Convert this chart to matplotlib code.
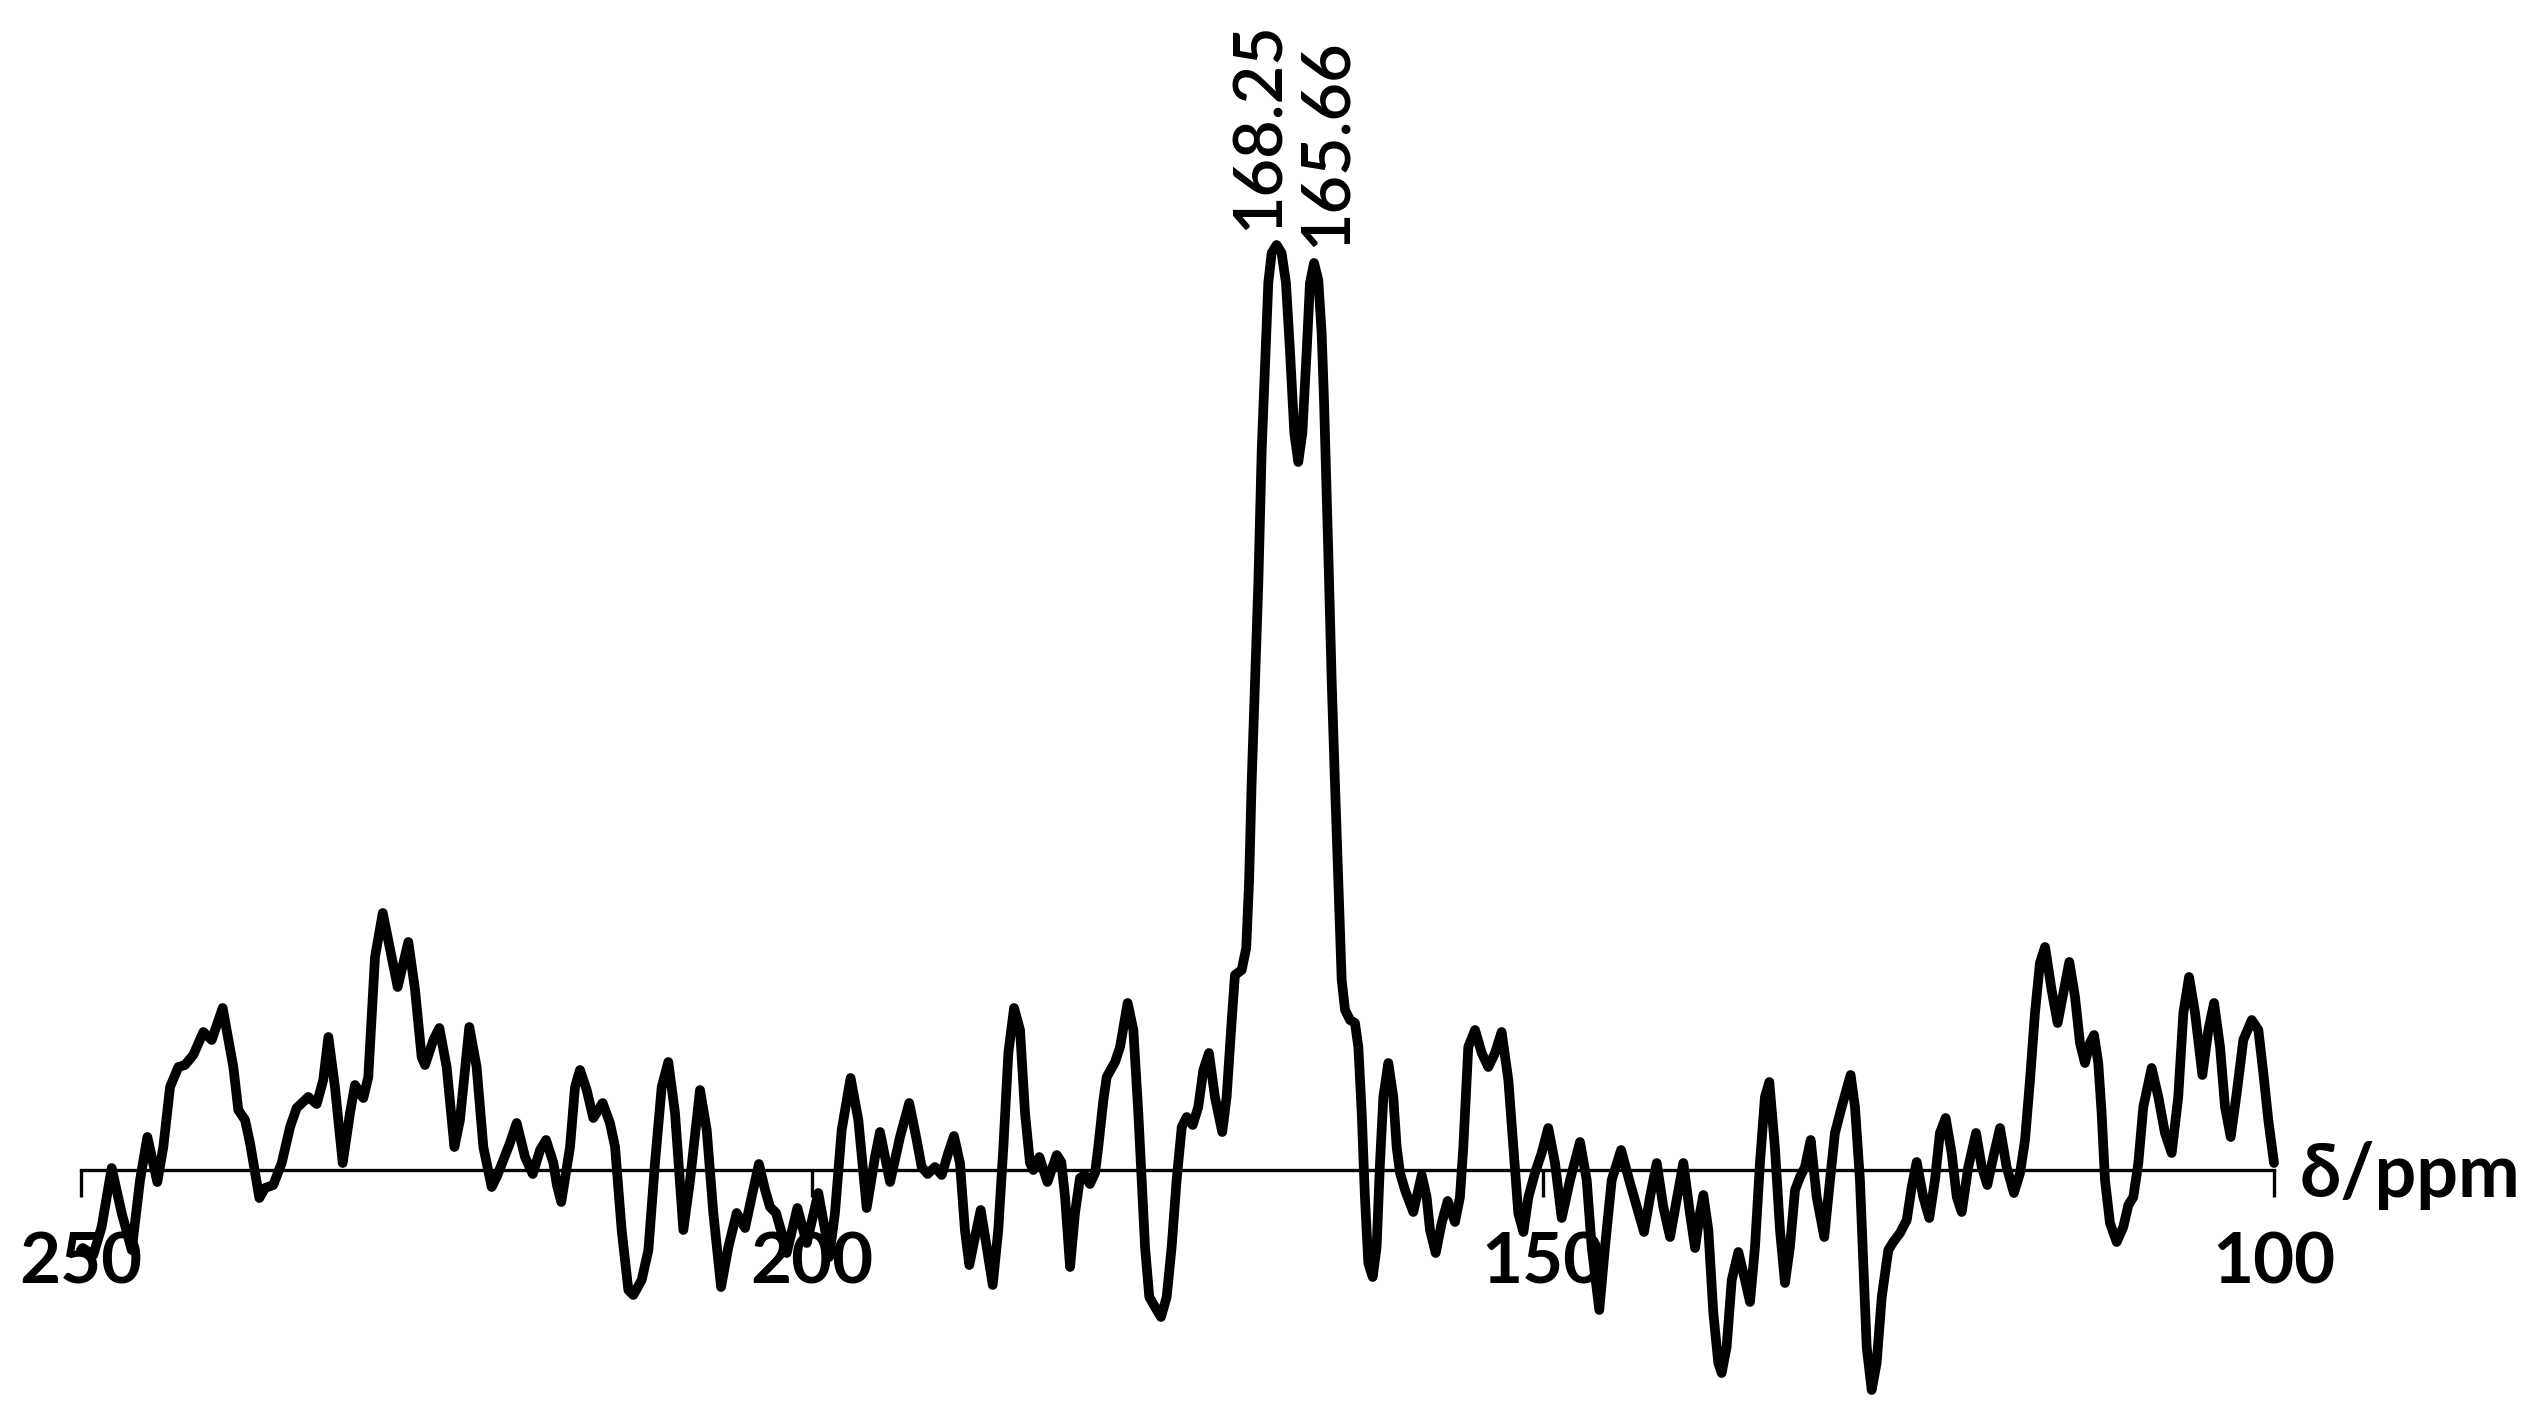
import matplotlib
matplotlib.use("Agg")
import matplotlib.pyplot as plt

plt.rcParams["font.family"] = ["Lato", "DejaVu Sans"]

# chemical shift (ppm) and intensity (arbitrary units, baseline = 0)
ppm = [
    250.00, 249.88, 249.16, 248.59, 247.90, 247.22, 246.53, 245.96, 245.46, 244.78,
    244.37, 243.91, 243.34, 242.89, 242.32, 241.63, 241.06, 240.31, 239.58, 239.24,
    238.78, 238.44, 237.80, 237.41, 236.85, 236.27, 235.70, 235.25, 234.45, 233.88,
    233.43, 233.08, 232.63, 232.10, 231.60, 231.26, 230.69, 230.35, 229.89, 229.36,
    228.75, 228.34, 227.61, 227.15, 226.70, 226.47, 225.90, 225.49, 224.99, 224.46,
    224.08, 223.44, 222.94, 222.48, 221.91, 221.57, 221.11, 220.66, 220.20, 219.63,
    219.10, 218.60, 218.19, 217.69, 217.45, 217.15, 216.55, 216.21, 215.87, 215.41,
    214.96, 214.32, 213.82, 213.47, 213.02, 212.56, 212.22, 211.65, 211.19, 210.74,
    210.28, 209.83, 209.37, 208.80, 208.34, 207.66, 207.20, 206.75, 206.22, 205.72,
    205.15, 204.58, 204.13, 203.63, 203.21, 202.87, 202.46, 202.07, 201.73, 201.00,
    200.36, 199.57, 199.11, 198.82, 198.43, 197.97, 197.36, 196.83, 196.26, 195.69,
    195.35, 194.66, 193.98, 193.35, 192.84, 192.50, 192.09, 191.59, 191.13, 190.68,
    190.29, 189.88, 189.54, 189.24, 188.85, 188.46, 188.05, 187.64, 187.26, 186.91,
    186.57, 186.18, 185.77, 185.43, 185.09, 184.86, 184.45, 183.90, 183.26, 182.95,
    182.69, 182.35, 182.01, 181.67, 181.33, 180.99, 180.64, 180.42, 180.07, 179.84,
    179.27, 178.93, 178.41, 178.02, 177.68, 177.45, 177.22, 176.93, 176.54, 176.13,
    175.74, 175.40, 175.06, 174.71, 174.37, 173.96, 173.58, 173.23, 172.85, 172.44,
    171.94, 171.64, 171.29, 171.07, 170.61, 170.30, 170.10, 169.93, 169.70, 169.47,
    169.24, 169.02, 168.79, 168.56, 168.22, 167.88, 167.58, 167.31, 167.01, 166.74,
    166.46, 166.16, 165.94, 165.66, 165.37, 165.14, 164.98, 164.69, 164.45, 164.23,
    164.00, 163.89, 163.77, 163.54, 163.20, 162.86, 162.63, 162.40, 162.18, 161.95,
    161.65, 161.38, 161.15, 160.92, 160.58, 160.24, 160.01, 159.78, 159.44, 158.87,
    158.30, 157.96, 157.73, 157.34, 156.93, 156.52, 156.02, 155.68, 155.45, 155.11,
    154.65, 154.19, 153.74, 153.28, 152.83, 152.37, 152.03, 151.69, 151.34, 151.00,
    150.55, 150.09, 149.64, 149.18, 148.72, 148.15, 147.47, 147.01, 146.67, 146.15,
    145.76, 145.30, 144.66, 144.05, 143.09, 142.68, 142.22, 141.77, 141.31, 140.86,
    140.40, 139.95, 139.60, 139.26, 139.03, 138.69, 138.35, 138.01, 137.78, 137.44,
    137.09, 136.64, 136.18, 135.84, 135.50, 135.16, 134.82, 134.52, 134.14, 133.79,
    133.45, 133.11, 132.76, 132.42, 132.08, 131.69, 131.28, 130.76, 130.37, 130.03,
    129.57, 128.96, 128.66, 128.32, 128.09, 127.86, 127.52, 127.18, 126.83, 126.38,
    126.04, 125.58, 125.12, 124.78, 124.44, 123.99, 123.58, 123.19, 122.85, 122.46,
    122.05, 121.70, 121.36, 120.91, 120.38, 119.99, 119.61, 119.20, 118.74, 118.29,
    117.79, 117.37, 117.03, 116.69, 116.35, 116.01, 115.66, 115.21, 114.80, 114.41,
    114.00, 113.61, 113.27, 112.93, 112.59, 112.31, 112.02, 111.79, 111.56, 111.22,
    110.76, 110.31, 109.96, 109.62, 109.28, 108.94, 108.37, 107.91, 107.46, 107.00,
    106.55, 106.20, 105.81, 105.40, 104.90, 104.49, 104.10, 103.69, 103.35, 102.96,
    102.55, 102.10, 101.52, 101.07, 100.73, 100.39, 100.00,
]
intensity = [
    -80, -78, -85, -57, 2, -43, -80, -10, 33, -12,
    23, 83, 103, 105, 115, 138, 130, 162, 103, 60,
    50, 27, -28, -18, -15, 7, 43, 62, 73, 66,
    90, 133, 83, 7, 57, 85, 72, 93, 213, 257,
    213, 183, 228, 180, 113, 105, 130, 142, 103, 23,
    50, 143, 103, 23, -17, -7, 10, 27, 47, 13,
    -4, 20, 30, 7, -15, -32, 23, 83, 100, 80,
    52, 67, 47, 23, -60, -120, -125, -110, -80, 7,
    83, 108, 57, -60, -10, 80, 40, -43, -117, -77,
    -43, -58, -27, 6, -20, -37, -43, -63, -83, -38,
    -73, -23, -60, -87, -43, 40, 92, 50, -38, 13,
    38, -12, 33, 67, 30, 3, -4, 3, -5, 17,
    34, 7, -60, -95, -67, -40, -77, -115, -60, 23,
    117, 162, 140, 57, 7, 0, 13, -12, 15, 8,
    -27, -97, -43, -8, -5, -14, -3, 23, 70, 93,
    108, 123, 167, 140, 57, -10, -77, -127, -137, -147,
    -127, -77, -10, 43, 53, 45, 63, 100, 117, 73,
    38, 73, 150, 195, 200, 222, 290, 387, 487, 587,
    720, 803, 887, 917, 925, 917, 887, 820, 737, 708,
    737, 820, 887, 907, 890, 837, 770, 620, 487, 387,
    287, 240, 190, 160, 150, 147, 123, 57, -27, -93,
    -107, -77, 7, 73, 107, 73, 23, -3, -20, -42,
    -5, -27, -60, -83, -53, -31, -52, -27, 23, 123,
    140, 117, 103, 117, 138, 90, 23, -43, -62, -27,
    -3, 17, 42, 7, -48, -10, 28, -10, -77, -140,
    -77, -10, 20, -13, -62, -27, 7, -37, -67, -30,
    7, -43, -78, -43, -25, -60, -143, -193, -203, -177,
    -110, -82, -110, -132, -77, 7, 73, 88, 23, -60,
    -113, -77, -20, -7, 3, 30, -27, -67, -10, 37,
    63, 95, 63, -10, -93, -177, -220, -193, -127, -80,
    -72, -63, -50, -17, 8, -27, -48, -10, 37, 52,
    17, -27, -42, 3, 37, 3, -15, 13, 42, 3,
    -23, -3, 30, 90, 157, 207, 223, 180, 147, 177,
    208, 173, 127, 107, 127, 135, 107, 57, -10, -53,
    -72, -57, -35, -27, 7, 63, 102, 73, 37, 17,
    73, 157, 193, 157, 95, 140, 167, 123, 63, 33,
    77, 130, 150, 140, 97, 50, 7,
]

tick_values = [250, 200, 150, 100]
tick_labels = ["250", "200", "150", "100"]
peak_labels = ["168.25", "165.66"]
peak_label_x = [169.36, 164.77]
peak_label_y = [940, 923]

W, H = 2543, 1422
fig = plt.figure(figsize=(W / 100, H / 100), dpi=100)
ax = fig.add_axes([81 / W, 0, 2193 / W, 1])
ax.patch.set_alpha(0)

ax.plot(ppm, intensity, color="black", linewidth=7.0,
        solid_joinstyle="round", solid_capstyle="round", clip_on=False, zorder=3)

ax.set_xlim(250, 100)
ax.set_ylim(-252, 1170)

for side in ["left", "right", "top"]:
    ax.spines[side].set_visible(False)
ax.spines["bottom"].set_position(("data", 0))
ax.spines["bottom"].set_linewidth(2.4)
ax.set_yticks([])
ax.set_xticks(tick_values)
ax.set_xticklabels(tick_labels, fontsize=51, fontweight="bold")
ax.tick_params(axis="x", direction="out", length=19.5, width=2.4, pad=24)

for label, x, y in zip(peak_labels, peak_label_x, peak_label_y):
    ax.text(x, y, label, rotation=90, ha="center", va="bottom",
            fontsize=48, fontweight="semibold")

fig.text(2300 / W, (H - 1197) / H, "δ/ppm", fontsize=53, fontweight="bold",
         ha="left", va="baseline")

fig.savefig("out.png", dpi=100, facecolor="white")
